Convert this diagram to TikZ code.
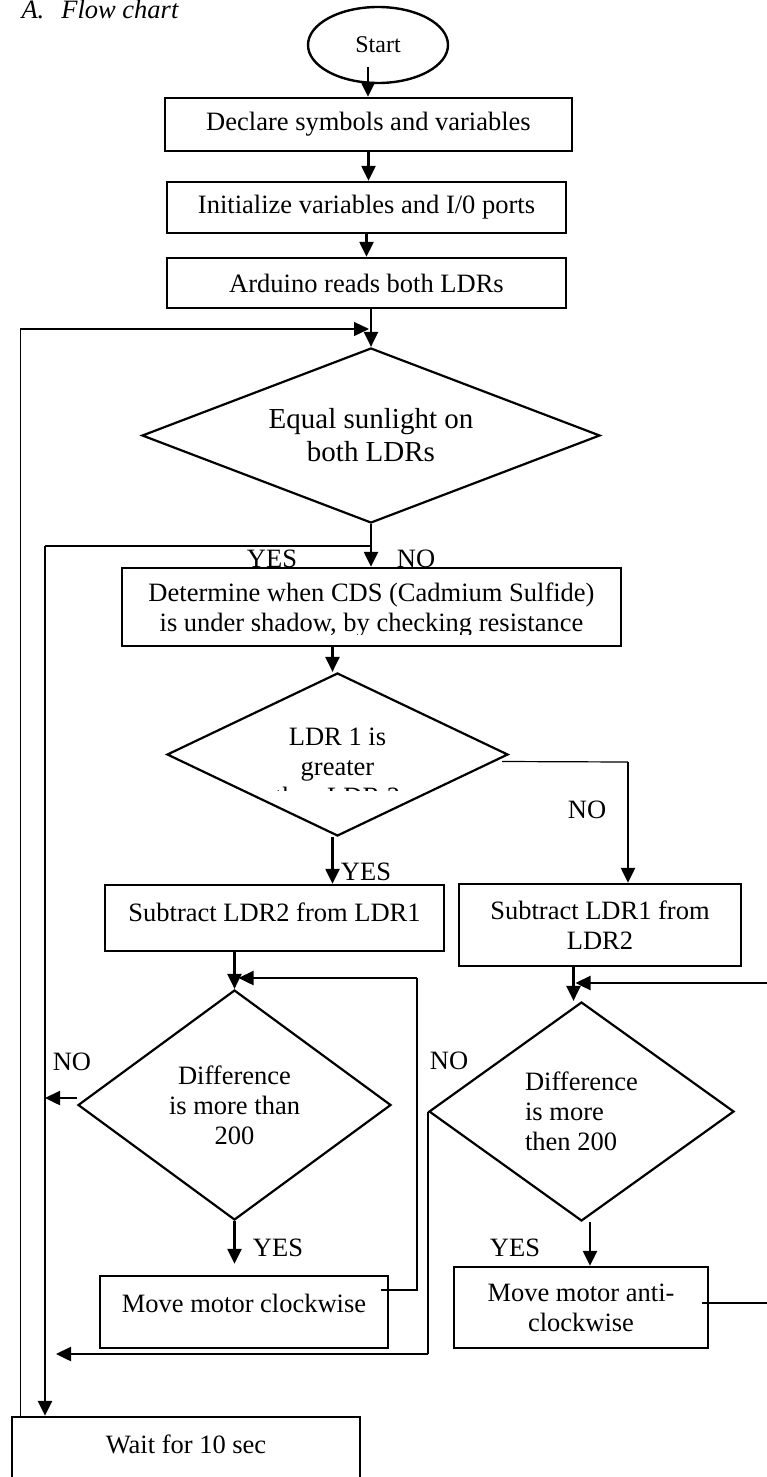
\documentclass[tikz,border=0pt]{standalone}
\usepackage{fontspec}
\setmainfont{Liberation Serif}
\usetikzlibrary{shapes.geometric}
\usetikzlibrary{arrows.meta}
\usetikzlibrary{calc}

\begin{document}
\begin{tikzpicture}[x=1pt,y=-1pt,font=\fontsize{26.5}{30}\selectfont]
      \tikzstyle{edge}  = [line width=1.2pt,draw=black]
      \tikzstyle{dedge} = [-{Triangle[length=15pt,width=14pt]},line width=2.4pt,draw=black]
      \tikzstyle{block}=[
        draw,
        rectangle,
        line width=2.4pt,
        inner sep=0pt,
        align=center,
      ]
      \tikzstyle{decision}=[draw, diamond, line width=2.2pt, inner sep=0pt, align=center]
      \tikzstyle{terminal}=[draw, ellipse, line width=2.4pt, inner sep=0pt]
      \tikzstyle{lbl}=[inner sep=0pt]

      \useasboundingbox (0,0) rectangle (766,1477);

      \node[anchor=base west, font=\itshape\fontsize{26.5}{30}\selectfont] (title) at (18,19) {A.\hspace{17pt}Flow chart};

      \node[terminal, minimum width=140pt, minimum height=76pt, font=\fontsize{24}{28}\selectfont] (start) at (378,45) {Start};
      \node[block, minimum width=407pt, minimum height=53pt] (declare) at (368.5,124.5) {Declare symbols and variables};
      \node[block, minimum width=399pt, minimum height=51pt] (init) at (366.5,207.5) {Initialize variables and I/0 ports};
      \node[block, minimum width=399pt, minimum height=50pt] (reads) at (366.5,283) {Arduino reads both LDRs};
      \node[decision, aspect=2.6, minimum width=458pt, minimum height=175pt, font=\fontsize{29}{33}\selectfont] (equal) at (371,435.5) {Equal sunlight on\\both LDRs};

      \node[block, minimum width=499pt, minimum height=78pt] (determine) at (371.5,607) {};
      \begin{scope}
        \clip (122,560) rectangle (621,634);
        \node[lbl, align=center] (determinetext) at (371.5,610) {Determine when CDS (Cadmium Sulfide)\\is under shadow, by checking resistance};
      \end{scope}

      \node[decision, aspect=2.1, minimum width=341pt, minimum height=163pt] (greater) at (337.5,754.5) {};
      \begin{scope}
        \clip (150,670) rectangle (520,790);
        \node[lbl, align=center] (greatertext) at (337.5,767) {LDR 1 is\\greater\\than LDR 2};
      \end{scope}

      \node[block, minimum width=339pt, minimum height=66pt, text depth=12pt] (sub21) at (274.5,918) {Subtract LDR2 from LDR1};
      \node[block, minimum width=282pt, minimum height=82pt] (sub12) at (600,925) {Subtract LDR1 from\\LDR2};
      \node[decision, aspect=1.36, minimum width=313pt, minimum height=230pt] (diff1) at (234.5,1105) {Difference\\is more than\\200};
      \node[decision, aspect=1.39, minimum width=305pt, minimum height=219pt, align=left] (diff2) at (581.5,1111.5) {Difference\\is more\\then 200};
      \node[block, minimum width=288pt, minimum height=72pt, text depth=18pt] (cw) at (244,1312) {Move motor clockwise};
      \node[block, minimum width=254pt, minimum height=81pt] (acw) at (581,1307.5) {Move motor anti-\\clockwise};
      \node[block, minimum width=348pt, minimum height=84pt, text depth=30pt] (wait) at (186,1459) {Wait for 10 sec};

      \node[lbl] (yes1) at (272,559) {YES};
      \node[lbl] (no1) at (416,559) {NO};
      \node[lbl] (no2) at (587,810) {NO};
      \node[lbl] (yes2) at (366,872) {YES};
      \node[lbl] (no3) at (72,1062) {NO};
      \node[lbl] (yes3) at (278,1248) {YES};
      \node[lbl] (no4) at (449,1061) {NO};
      \node[lbl] (yes4) at (515,1248) {YES};

      \coordinate (loopjoin) at (371,329);
      \coordinate (yesturn) at (45,546);
      \coordinate (noturn) at (628,762);
      \coordinate (cwturn) at (417,978);
      \coordinate (acwturn) at (776,983);
      \coordinate (noturn2) at (431,1354);

      \draw[dedge] ([shift={(-10,22)}]start.center) -- ([xshift=-10pt]start.center |- declare.north);
      \draw[dedge] (declare.south) -- (declare.south |- init.north);
      \draw[dedge] (init.south) -- (init.south |- reads.north);
      \draw[dedge] (reads.south -| equal.north) -- (equal.north);
      \draw[edge, -{Triangle[length=15pt,width=14pt]}] ([xshift=10pt]wait.north west) |- ([xshift=-2pt]loopjoin);
      \draw[dedge] (equal.south) -- (equal.south |- determine.north);
      \draw[edge] (equal.south |- yesturn) -- (yesturn);
      \draw[dedge] (yesturn) -- (yesturn |- wait.north);
      \draw[dedge] ([xshift=-5pt]greater.north |- determine.south) -- ([xshift=-5pt]greater.north);
      \draw[dedge] ([xshift=-5pt]greater.south) -- ([xshift=-5pt]greater.south |- sub21.north);
      \draw[edge] ([shift={(-7,7)}]greater.east) -- (noturn);
      \draw[dedge] (noturn) -- (noturn |- sub12.north);
      \draw[dedge] (sub21.south -| diff1.north) -- (diff1.north);
      \draw[edge] ([shift={(-8,-22)}]cw.east) -| (cwturn);
      \draw[dedge] (cwturn) -- ([xshift=4pt]diff1.north |- cwturn);
      \draw[dedge] ([yshift=7pt]diff1.west) -- ([yshift=7pt]diff1.west -| yesturn);
      \draw[dedge] (diff1.south) -- ($(diff1.south |- cw.north)+(0,-11)$);
      \draw[dedge] ([xshift=-8pt]diff2.north |- sub12.south) -- ([xshift=-8pt]diff2.north);
      \draw[edge] ([shift={(-7,-4.5)}]acw.east) -| (acwturn);
      \draw[dedge] (acwturn) -- ([xshift=-6pt]diff2.north |- acwturn);
      \draw[dedge] ([xshift=8.5pt]diff2.south) -- ([xshift=8.5pt]diff2.south |- acw.north);
      \draw[edge] (diff2.west) -- (diff2.west |- noturn2);
      \draw[dedge] (diff2.west |- noturn2) -- ([xshift=11pt]yesturn |- noturn2);
    \end{tikzpicture}
\end{document}
